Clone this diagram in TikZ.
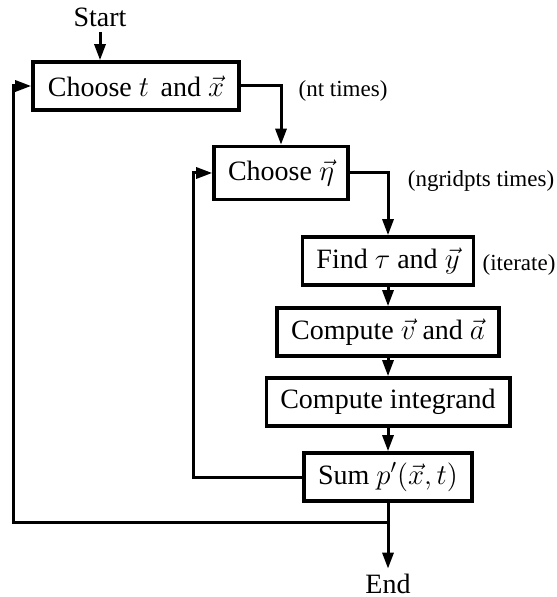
\documentclass[tikz,border=0pt]{standalone}
\usepackage{amsmath}
\usepackage{fontspec}
\setmainfont{Liberation Serif}
\usetikzlibrary{arrows.meta}

\begin{document}
\begin{tikzpicture}[x=0.5pt,y=-0.5pt,->,>={Triangle[length=8pt,width=5.5pt]},
		line width=1.5pt,
		box/.style={draw,rectangle,line width=1.8pt,minimum height=24pt,
			inner xsep=7pt,font=\fontsize{14}{16}\selectfont},
		note/.style={font=\fontsize{11.5}{13}\selectfont},
		term/.style={inner sep=2pt,font=\fontsize{14}{16}\selectfont}]

		\useasboundingbox (0,0) rectangle (556,597);

		\node[term] (start) at (100,17) {Start};
		\node[box, minimum width=103pt] (b1) at (136,86) {Choose $t$\, and $\vec{x}$};
		\node[box, minimum height=26.5pt] (b2) at (281,173) {Choose $\vec{\eta}$};
		\node[box] (b3) at (388,261) {Find $\tau$ and $\vec{y}$};
		\node[box] (b4) at (388,332) {Compute $\vec{v}$ and $\vec{a}$};
		\node[box] (b5) at (388,402) {Compute integrand};
		\node[box] (b6) at (388,477) {Sum $p'(\vec{x},t)$};
		\node[term] (end) at (388,584) {End};

		\node[note] (nt) at (343,91) {(nt times)};
		\node[note] (ngrid) at (481,181) {(ngridpts times)};
		\node[note] (iter) at (519,265) {(iterate)};

		\coordinate (l1) at (13,300);
		\coordinate (l2) at (193,300);
		\coordinate (j) at (388,522);

		\draw (start) -- (start |- b1.north);
		\draw (b1) -| (b2);
		\draw (b2) -| (b3);
		\path
		(b3) edge (b4)
		(b4) edge (b5)
		(b5) edge (b6)
		(b6) edge (end);
		\draw (b6) -| (l2) |- (b2);
		\draw (j) -| (l1) |- (b1);
	\end{tikzpicture}
\end{document}
